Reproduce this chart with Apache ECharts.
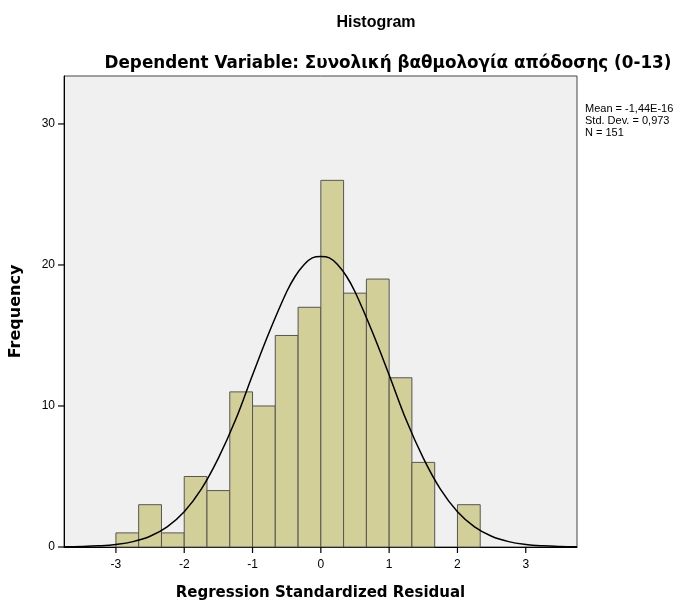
<!DOCTYPE html>
<html>
<head>
<meta charset="utf-8">
<script src="https://cdn.jsdelivr.net/npm/echarts@6/dist/echarts.min.js"></script>
<style>
  html, body { margin: 0; padding: 0; background: #fff; }
  #chart { width: 694px; height: 606px; }
</style>
</head>
<body>
<div id="chart"></div>
<script>
// histogram bins (lower edge, upper edge) and counts
const binStart = [-3, -2.667, -2.333, -2, -1.667, -1.333, -1, -0.667, -0.333, 0, 0.333, 0.667, 1, 1.333, 1.667, 2];
const binEnd   = [-2.667, -2.333, -2, -1.667, -1.333, -1, -0.667, -0.333, 0, 0.333, 0.667, 1, 1.333, 1.667, 2, 2.333];
const counts   = [1, 3, 1, 5, 4, 11, 10, 15, 17, 26, 18, 19, 12, 6, 0, 3];

// normal curve
const curveX = [-3.75, -3.5, -3.25, -3, -2.75, -2.5, -2.25, -2, -1.75, -1.5, -1.25, -1, -0.75, -0.5, -0.375, -0.25, -0.125, 0,
                0.125, 0.25, 0.375, 0.5, 0.75, 1, 1.25, 1.5, 1.75, 2, 2.25, 2.5, 2.75, 3, 3.25, 3.5, 3.75];
const curveY = [0.01, 0.03, 0.08, 0.18, 0.38, 0.76, 1.43, 2.5, 4.1, 6.3, 9.0, 12.2, 15.3, 18.1, 19.2, 20.0, 20.5, 20.6,
                20.5, 20.0, 19.2, 18.1, 15.3, 12.2, 9.0, 6.3, 4.1, 2.5, 1.43, 0.76, 0.38, 0.18, 0.08, 0.03, 0.01];

const xTicks = [-3, -2, -1, 0, 1, 2, 3];
const yTicks = [0, 10, 20, 30];

const chart = echarts.init(document.getElementById('chart'));
const font = 'Liberation Sans, Arial, sans-serif';
const wide = 'DejaVu Sans, sans-serif';

const option = {
  animation: false,
  textStyle: { fontFamily: font },
  title: [
    { text: 'Histogram', left: 371, top: 10, textAlign: 'center',
      textStyle: { fontSize: 16, fontWeight: 'bold', color: '#000', fontFamily: font } },
    { text: 'Dependent Variable: Συνολική βαθμολογία απόδοσης (0-13)', left: 383, top: 50, textAlign: 'center',
      textStyle: { fontSize: 16.8, fontWeight: 'bold', color: '#000', fontFamily: wide } }
  ],
  graphic: [
    { type: 'text', left: 585, top: 103,
      style: { text: 'Mean = -1,44E-16\nStd. Dev. = 0,973\nN = 151', font: '11px ' + font, fill: '#000', lineHeight: 12 } }
  ],
  grid: {
    left: 64, right: 117, top: 76, bottom: 59,
    show: true, backgroundColor: '#f0f0f0', borderColor: '#444', borderWidth: 1
  },
  xAxis: {
    type: 'value', min: -3.76, max: 3.75,
    name: 'Regression Standardized Residual', nameLocation: 'middle', nameGap: 39,
    nameTextStyle: { fontSize: 15, fontWeight: 'bold', color: '#000', fontFamily: wide },
    axisLine: { onZero: false, lineStyle: { color: '#000', width: 1 } },
    axisTick: { show: false },
    axisLabel: { show: false },
    splitLine: { show: false }
  },
  yAxis: {
    type: 'value', min: 0, max: 33.4,
    name: 'Frequency', nameLocation: 'middle', nameGap: 40,
    nameTextStyle: { fontSize: 16, fontWeight: 'bold', color: '#000', fontFamily: wide },
    axisLine: { show: true, onZero: false, lineStyle: { color: '#000', width: 1 } },
    axisTick: { show: false },
    axisLabel: { color: '#000', fontSize: 12, margin: 9, fontFamily: font, customValues: yTicks },
    splitLine: { show: false }
  },
  series: [
    {
      type: 'custom',
      data: counts.map((c, i) => [binStart[i], binEnd[i], c]),
      renderItem: function (params, api) {
        if (api.value(2) <= 0) return null;
        const p0 = api.coord([api.value(0), api.value(2)]);
        const p1 = api.coord([api.value(1), 0]);
        return {
          type: 'rect',
          shape: { x: p0[0], y: p0[1], width: p1[0] - p0[0], height: p1[1] - p0[1] },
          style: { fill: '#d3cf99', stroke: '#555', lineWidth: 1 }
        };
      },
      z: 2
    },
    {
      type: 'line',
      data: curveX.map((x, i) => [x, curveY[i]]),
      smooth: 0.4,
      showSymbol: false,
      lineStyle: { color: '#000', width: 1.5 },
      z: 3
    },
    {
      // x ticks and labels at integer positions
      type: 'custom',
      data: xTicks.map(t => [t]),
      clip: false,
      renderItem: function (params, api) {
        const p = api.coord([api.value(0), 0]);
        return {
          type: 'group',
          children: [
            { type: 'line', shape: { x1: p[0], y1: p[1], x2: p[0], y2: p[1] + 6 }, style: { stroke: '#000', lineWidth: 1.2 } },
            { type: 'text', x: p[0], y: p[1] + 12,
              style: { text: String(api.value(0)), fill: '#000', font: '12px ' + font, align: 'center', verticalAlign: 'top' } }
          ]
        };
      },
      z: 4
    },
    {
      // y ticks at 0, 10, 20, 30
      type: 'custom',
      data: yTicks.map(t => [-3.76, t]),
      clip: false,
      renderItem: function (params, api) {
        const p = api.coord([api.value(0), api.value(1)]);
        return {
          type: 'line',
          shape: { x1: p[0] - 6, y1: p[1], x2: p[0], y2: p[1] },
          style: { stroke: '#000', lineWidth: 1.2 }
        };
      },
      z: 4
    }
  ]
};

chart.setOption(option);
</script>
</body>
</html>
